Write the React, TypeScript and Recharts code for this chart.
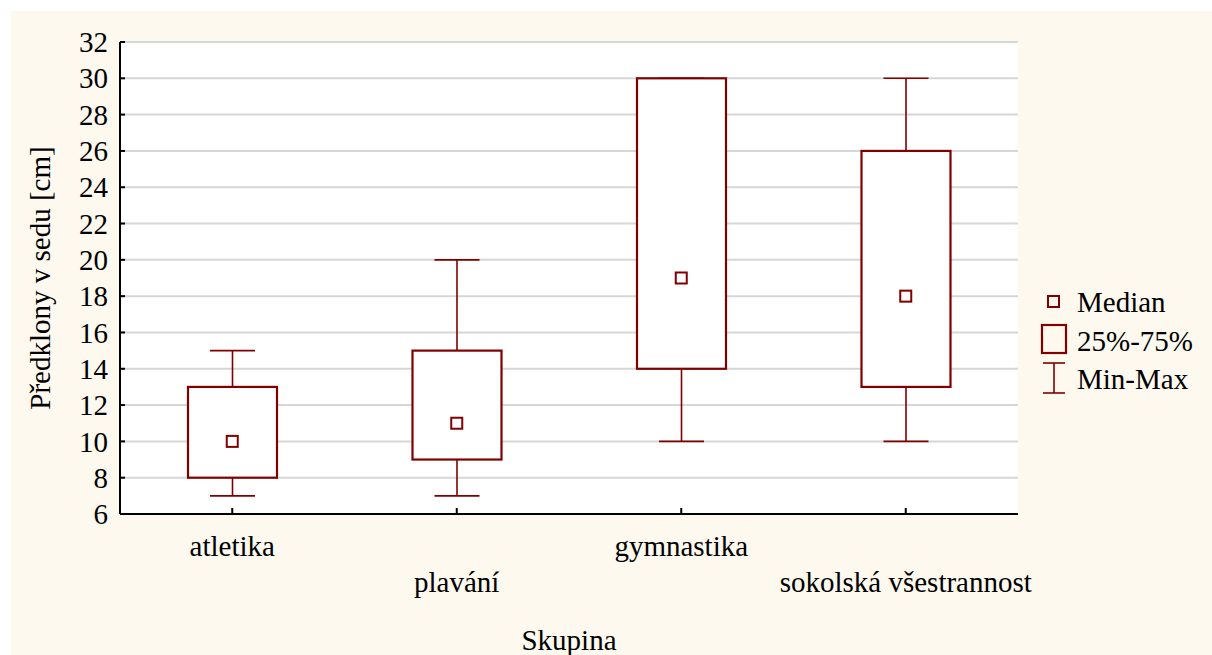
import React from 'react';
import { ComposedChart, Bar, Scatter, XAxis, YAxis, CartesianGrid, Legend } from 'recharts';

const categories = ['atletika', 'plavání', 'gymnastika', 'sokolská všestrannost'];
const minValues = [7, 7, 10, 10];
const q1Values = [8, 9, 14, 13];
const medianValues = [10, 11, 19, 18];
const q3Values = [13, 15, 30, 26];
const maxValues = [15, 20, 30, 30];
const yTicks = [6, 8, 10, 12, 14, 16, 18, 20, 22, 24, 26, 28, 30, 32];
const legendLabels = ['Median', '25%-75%', 'Min-Max'];

const data = categories.map((c, i) => ({
  name: c,
  min: minValues[i],
  q1: q1Values[i],
  median: medianValues[i],
  q3: q3Values[i],
  max: maxValues[i],
}));

const RED = '#800000';
const FONT = '"Liberation Serif", "Times New Roman", serif';
const FS = 29;

const BoxShape = (props: any) => {
  const { x, y, width, height } = props;
  const top = Math.min(y, y + height);
  const h = Math.abs(height);
  return <rect x={x} y={top} width={width} height={h} fill="#fff" stroke={RED} strokeWidth={2.2} />;
};

const WhiskerShape = (props: any) => {
  const { x, y, width, height } = props;
  const top = Math.min(y, y + height);
  const bottom = Math.max(y, y + height);
  const cx = x + width / 2;
  return (
    <g stroke={RED} strokeWidth={1.6}>
      <line x1={cx} x2={cx} y1={top} y2={bottom} />
      <line x1={x} x2={x + width} y1={top} y2={top} />
      <line x1={x} x2={x + width} y1={bottom} y2={bottom} />
    </g>
  );
};

const MedianShape = (props: any) => {
  const { cx, cy } = props;
  return <rect x={cx - 5.5} y={cy - 5.5} width={11} height={11} fill="#fff" stroke={RED} strokeWidth={2} />;
};

const BottomTick = (props: any) => {
  const { x, y, payload, index } = props;
  return (
    <g>
      <line x1={x} x2={x} y1={y} y2={y - 6} stroke="#000" strokeWidth={2} />
      <text x={x} y={y + (index % 2 === 0 ? 42 : 78)} textAnchor="middle" fill="#000" fontSize={FS} fontFamily={FONT}>
        {payload.value}
      </text>
    </g>
  );
};

const TopTick = (props: any) => {
  const { x, y } = props;
  return <line x1={x} x2={x} y1={y} y2={y + 5} stroke="#000" strokeWidth={2} />;
};

const LeftTick = (props: any) => {
  const { x, y, payload } = props;
  return (
    <g>
      <line x1={x} x2={x + 5} y1={y} y2={y} stroke="#000" strokeWidth={2} />
      <text x={x - 12} y={y} dy="0.35em" textAnchor="end" fill="#000" fontSize={FS} fontFamily={FONT}>
        {payload.value}
      </text>
    </g>
  );
};

const RightTick = (props: any) => {
  const { x, y } = props;
  return <line x1={x} x2={x - 5} y1={y} y2={y} stroke="#000" strokeWidth={2} />;
};

const YTitle = (props: any) => {
  const vb = props.viewBox || { x: 10, y: 42, width: 110, height: 472 };
  const x = vb.x + 40;
  const y = vb.y + vb.height / 2;
  return (
    <text x={x} y={y} transform={`rotate(-90 ${x} ${y})`} textAnchor="middle" fill="#000" fontSize={FS} fontFamily={FONT}>
      Předklony v sedu [cm]
    </text>
  );
};

const renderLegend = () => (
  <svg width={180} height={120} style={{ display: 'block' }}>
    <rect x={18} y={11} width={11} height={11} fill="none" stroke={RED} strokeWidth={2} />
    <text x={47} y={27} fill="#000" fontSize={FS} fontFamily={FONT}>{legendLabels[0]}</text>
    <rect x={12} y={40} width={24} height={28} fill="none" stroke={RED} strokeWidth={2.2} />
    <text x={47} y={66} fill="#000" fontSize={FS} fontFamily={FONT}>{legendLabels[1]}</text>
    <g stroke={RED} strokeWidth={1.6}>
      <line x1={24} x2={24} y1={78} y2={108} />
      <line x1={13} x2={35} y1={78} y2={78} />
      <line x1={13} x2={35} y1={108} y2={108} />
    </g>
    <text x={47} y={104} fill="#000" fontSize={FS} fontFamily={FONT}>{legendLabels[2]}</text>
  </svg>
);

export default function App() {
  return (
    <div style={{ position: 'relative', width: 1212, height: 655, background: '#fff', overflow: 'hidden' }}>
      <style>{`body{margin:0}`}</style>
      <div style={{ position: 'absolute', left: 11, top: 11, right: 0, bottom: 0, background: '#FEF9EF' }} />
      <div style={{ position: 'absolute', left: 0, top: 0 }}>
        <ComposedChart
          width={1212}
          height={655}
          data={data}
          margin={{ top: 42, right: 194, bottom: 0, left: 10 }}
        >
          <CartesianGrid vertical={false} fill="#fff" stroke="#D6D6D6" strokeWidth={2} yAxisId="left" xAxisId="main" />
          <XAxis
            xAxisId="main"
            dataKey="name"
            height={141}
            tickSize={0}
            tickMargin={0}
            tick={<BottomTick />}
            interval={0}
            axisLine={{ stroke: '#000', strokeWidth: 2 }}
            tickLine={false}
            label={{ value: 'Skupina', position: 'insideBottom', offset: 5, fill: '#000', fontSize: FS, fontFamily: FONT }}
          />
          <XAxis
            xAxisId="top"
            orientation="top"
            dataKey="name"
            height={0}
            tickSize={0}
            tickMargin={0}
            tick={<TopTick />}
            interval={0}
            axisLine={{ stroke: '#000', strokeWidth: 2 }}
            tickLine={false}
          />
          <XAxis xAxisId="box" dataKey="name" orientation="top" height={0} hide />
          <XAxis xAxisId="whisker" dataKey="name" orientation="top" height={0} hide />
          <YAxis
            yAxisId="left"
            domain={[6, 32]}
            ticks={yTicks}
            interval={0}
            width={110}
            tickSize={0}
            tickMargin={0}
            tick={<LeftTick />}
            axisLine={{ stroke: '#000', strokeWidth: 2 }}
            tickLine={false}
            label={{ content: <YTitle /> }}
          />
          <YAxis
            yAxisId="right"
            orientation="right"
            domain={[6, 32]}
            ticks={yTicks}
            interval={0}
            width={0}
            tickSize={0}
            tickMargin={0}
            tick={<RightTick />}
            axisLine={{ stroke: '#000', strokeWidth: 2 }}
            tickLine={false}
          />
          <Bar
            xAxisId="whisker"
            yAxisId="left"
            dataKey={(d: any) => [d.min, d.max]}
            barSize={45}
            shape={<WhiskerShape />}
            isAnimationActive={false}
            legendType="none"
          />
          <Bar
            xAxisId="box"
            yAxisId="left"
            dataKey={(d: any) => [d.q1, d.q3]}
            barSize={89}
            shape={<BoxShape />}
            isAnimationActive={false}
            legendType="none"
          />
          <Scatter
            xAxisId="main"
            yAxisId="left"
            dataKey="median"
            shape={<MedianShape />}
            isAnimationActive={false}
            legendType="none"
          />
          <Legend
            content={renderLegend}
            layout="vertical"
            align="center"
            verticalAlign="middle"
            wrapperStyle={{ position: 'absolute', left: 1030, top: 285, width: 180, height: 120 }}
          />
        </ComposedChart>
      </div>
    </div>
  );
}
